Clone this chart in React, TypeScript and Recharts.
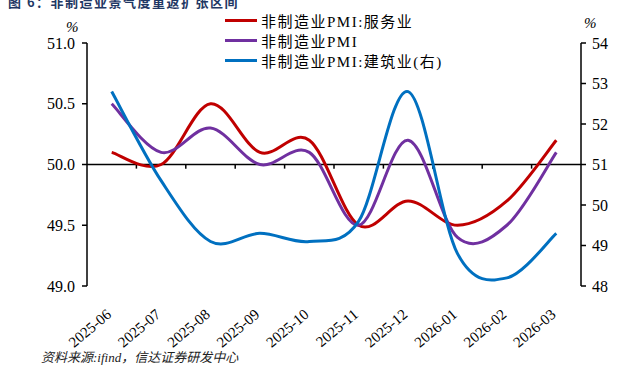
import React from 'react';
import { ComposedChart, Line, XAxis, YAxis, ReferenceLine } from 'recharts';

const categories = ['2025-06', '2025-07', '2025-08', '2025-09', '2025-10', '2025-11', '2025-12', '2026-01', '2026-02', '2026-03'];
const services = [50.1, 50.0, 50.5, 50.1, 50.2, 49.5, 49.7, 49.5, 49.7, 50.2];
const nonMfg = [50.5, 50.1, 50.3, 50.0, 50.1, 49.5, 50.2, 49.4, 49.5, 50.1];
const construction = [52.8, 50.6, 49.1, 49.3, 49.1, 49.6, 52.8, 48.8, 48.2, 49.3];
const leftTicks = [49.0, 49.5, 50.0, 50.5, 51.0];
const rightTicks = [48, 49, 50, 51, 52, 53, 54];

const seriesNames = ['非制造业PMI:服务业', '非制造业PMI', '非制造业PMI:建筑业(右)'];
const colors = ['#C00000', '#7030A0', '#0070C0'];

const categoryIdx = categories.map((_, i) => i);
const boundaries = categories.slice(1).map((_, i) => i + 0.5);

const data = categories.map((c, i) => ({
  idx: i,
  cat: c,
  s: services[i],
  n: nonMfg[i],
  b: construction[i],
}));

const FONT = '"Liberation Serif", "Times New Roman", "Noto Sans CJK SC", serif';

// Cardinal (Catmull-Rom, tension 0) curve factory, similar to office smoothing
const smoothCurve: any = (context: any) => {
  let pts: number[][] = [];
  return {
    areaStart() {},
    areaEnd() {},
    lineStart() {
      pts = [];
    },
    point(x: number, y: number) {
      pts.push([+x, +y]);
    },
    lineEnd() {
      const n = pts.length;
      if (!n) return;
      context.moveTo(pts[0][0], pts[0][1]);
      if (n === 1) return;
      for (let i = 0; i < n - 1; i++) {
        const p0 = pts[i - 1] || pts[i];
        const p1 = pts[i];
        const p2 = pts[i + 1];
        const p3 = pts[i + 2] || pts[i + 1];
        const c1x = p1[0] + (p2[0] - p0[0]) / 6;
        const c1y = p1[1] + (p2[1] - p0[1]) / 6;
        const c2x = p2[0] - (p3[0] - p1[0]) / 6;
        const c2y = p2[1] - (p3[1] - p1[1]) / 6;
        context.bezierCurveTo(c1x, c1y, c2x, c2y, p2[0], p2[1]);
      }
    },
  };
};

const XTick = (props: any) => {
  const { x, y, payload } = props;
  return (
    <g transform={`translate(${x + 0.5},${y + 22})`}>
      <text
        x={0}
        y={0}
        textAnchor="end"
        transform="rotate(-40)"
        fontSize={15}
        fontFamily={FONT}
        fill="#000"
      >
        {categories[payload.value]}
      </text>
    </g>
  );
};

const LegendBox = () => (
  <div style={{ position: 'absolute', left: 225, top: 10, fontFamily: FONT, fontSize: 15, color: '#000' }}>
    {seriesNames.map((name, i) => (
      <div key={name} style={{ display: 'flex', alignItems: 'center', height: 20, whiteSpace: 'nowrap' }}>
        <div style={{ width: 32, height: 3, background: colors[i], marginRight: 4 }} />
        <span style={{ letterSpacing: 1.5 }}>{name}</span>
      </div>
    ))}
  </div>
);

export default function App() {
  return (
    <div style={{ position: 'absolute', left: 0, top: 0, width: 635, height: 375, background: '#fff', overflow: 'hidden' }}>
      <ComposedChart
        width={635}
        height={375}
        data={data}
        margin={{ top: 43, right: 14, bottom: 29, left: 27 }}
        style={{ position: 'absolute', left: 0, top: 0 }}
      >
        <XAxis
          xAxisId="c"
          dataKey="idx"
          type="number"
          domain={[-0.5, categories.length - 0.5]}
          ticks={categoryIdx}
          axisLine={false}
          tickLine={false}
          tick={<XTick />}
          height={60}
          interval={0}
          allowDataOverflow
        />
        <YAxis
          yAxisId="left"
          orientation="left"
          domain={[49, 51]}
          ticks={leftTicks}
          tickFormatter={(v: number) => v.toFixed(1)}
          width={60}
          axisLine={{ stroke: '#000', strokeWidth: 1.5 }}
          tickLine={{ stroke: '#000', strokeWidth: 1.5 }}
          tickSize={5}
          tickMargin={7}
          tick={{ fill: '#000', fontSize: 16, fontFamily: FONT }}
          allowDataOverflow
        />
        <YAxis
          yAxisId="right"
          orientation="right"
          domain={[48, 54]}
          ticks={rightTicks}
          width={40}
          axisLine={{ stroke: '#000', strokeWidth: 1.5 }}
          tickLine={{ stroke: '#000', strokeWidth: 1.5 }}
          tickSize={5}
          tickMargin={6}
          tick={{ fill: '#000', fontSize: 16, fontFamily: FONT }}
          allowDataOverflow
        />
        <ReferenceLine xAxisId="c" yAxisId="left" y={50} stroke="#000" strokeWidth={1.5} />
        {boundaries.map((b) => (
          <ReferenceLine
            key={b}
            xAxisId="c"
            yAxisId="left"
            segment={[
              { x: b, y: 50 },
              { x: b, y: 49.966 },
            ]}
            stroke="#000"
            strokeWidth={1.5}
          />
        ))}
        <Line
          xAxisId="c"
          yAxisId="left"
          dataKey="s"
          name={seriesNames[0]}
          stroke={colors[0]}
          strokeWidth={3}
          dot={false}
          type={smoothCurve}
          isAnimationActive={false}
        />
        <Line
          xAxisId="c"
          yAxisId="left"
          dataKey="n"
          name={seriesNames[1]}
          stroke={colors[1]}
          strokeWidth={3}
          dot={false}
          type={smoothCurve}
          isAnimationActive={false}
        />
        <Line
          xAxisId="c"
          yAxisId="right"
          dataKey="b"
          name={seriesNames[2]}
          stroke={colors[2]}
          strokeWidth={3}
          dot={false}
          type={smoothCurve}
          isAnimationActive={false}
        />
      </ComposedChart>
      <div
        style={{
          position: 'absolute',
          left: 8,
          top: -8,
          fontFamily: '"Noto Sans CJK SC", sans-serif',
          fontWeight: 700,
          fontSize: 13,
          color: '#1F3864',
          letterSpacing: 1.5,
          whiteSpace: 'nowrap',
        }}
      >
        图 6：非制造业景气度重返扩张区间
      </div>
      <div style={{ position: 'absolute', left: 66, top: 19, fontFamily: FONT, fontStyle: 'italic', fontSize: 15 }}>%</div>
      <div style={{ position: 'absolute', left: 584, top: 15, fontFamily: FONT, fontStyle: 'italic', fontSize: 15 }}>%</div>
      <LegendBox />
      <div
        style={{
          position: 'absolute',
          left: 41,
          top: 347,
          fontFamily: FONT,
          fontStyle: 'italic',
          fontSize: 13,
          color: '#222',
          whiteSpace: 'nowrap',
        }}
      >
        资料来源:ifind，信达证券研发中心
      </div>
    </div>
  );
}
